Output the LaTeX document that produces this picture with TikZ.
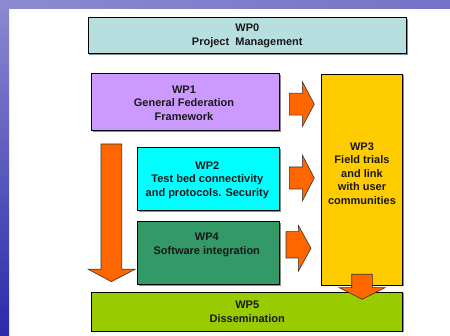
\documentclass[tikz,border=0pt]{standalone}
\usepackage{fontspec}
\setmainfont{Liberation Sans}
\usetikzlibrary{calc,shadows}
\definecolor{cwpzero}{HTML}{B8DFE0}
\definecolor{cwpone}{HTML}{CC99FF}
\definecolor{cwptwo}{HTML}{00FFFF}
\definecolor{cwpthree}{HTML}{FFCC00}
\definecolor{cwpfour}{HTML}{339966}
\definecolor{cwpfive}{HTML}{99CC00}
\definecolor{corange}{HTML}{FF6600}
\definecolor{bgtop}{HTML}{8C8AD0}
\definecolor{bgtopr}{HTML}{7672C6}
\definecolor{bgbot}{HTML}{2A2AAA}
\tikzset{
  wpbox/.style={draw=black, line width=0.9pt, inner sep=0pt,
    drop shadow={shadow xshift=1.4pt, shadow yshift=-1.4pt, fill=black!45, opacity=1}},
  wptext/.style={align=center, font=\fontsize{11}{13.5}\selectfont\bfseries, text=black!90, inner sep=0pt},
  blockarrow/.style={draw=black!80, line width=0.6pt, fill=corange, line join=miter}
}
\begin{document}
\begin{tikzpicture}[x=1pt,y=-1pt]
\useasboundingbox (0,0) rectangle (450,336);
% slide background
\fill[white] (0,0) rectangle (450,336);
\shade[top color=bgtop, bottom color=bgbot] (0,0) rectangle (9,336);
\shade[left color=bgtop, right color=bgtopr] (0,0) rectangle (450,8.5);
% boxes
\node[wpbox, fill=cwpzero, minimum width=318.7pt, minimum height=35.6pt] (wp0) at (247.3,35.5) {};
\node[wptext] at ($(wp0.center)+(0,0.5)$) {WP0\\Project\ \ Management};
\node[wpbox, fill=cwpone, minimum width=187.6pt, minimum height=56.7pt] (wp1) at (185.5,102.3) {};
\node[wptext] at ($(wp1.center)+(-1.5,0.7)$) {WP1\\General Federation\\Framework};
\node[wpbox, fill=cwptwo, minimum width=142pt, minimum height=63.3pt] (wp2) at (208.3,179.3) {};
\node[wptext] at ($(wp2.center)+(-1,1)$) {WP2\\Test bed connectivity\\and protocols. Security};
\node[wpbox, fill=cwpfour, minimum width=142pt, minimum height=63.3pt] (wp4) at (208.3,253.3) {};
\node[wptext] at ($(wp4.center)+(-1.5,-8.3)$) {WP4\\Software integration};
\node[wpbox, fill=cwpthree, minimum width=81.4pt, minimum height=211pt] (wp3) at (362,179.5) {};
\node[wptext] at ($(wp3.center)+(0,-6)$) {WP3\\Field trials\\and link\\with user\\communities};
\node[wpbox, fill=cwpfive, minimum width=311pt, minimum height=39pt] (wp5) at (247.2,311.5) {};
\node[wptext] at ($(wp5.center)+(0,0.3)$) {WP5\\Dissemination};
% block arrows
\draw[blockarrow] (289.3,93.2) -- (302.3,93.2) -- (302.3,81.7) -- (314.3,104.2) -- (302.3,126.7) -- (302.3,115.2) -- (289.3,115.2) -- cycle;
\draw[blockarrow] (289.3,167) -- (302.3,167) -- (302.3,155) -- (314.3,178) -- (302.3,201) -- (302.3,189) -- (289.3,189) -- cycle;
\draw[blockarrow] (286,231.7) -- (298.3,231.7) -- (298.3,225.3) -- (311,248.3) -- (298.3,271.3) -- (298.3,258) -- (286,258) -- cycle;
\draw[blockarrow] (101,144) -- (121.7,144) -- (121.7,269.3) -- (135,269.3) -- (111.4,281.7) -- (88.3,269.3) -- (101,269.3) -- cycle;
\draw[blockarrow] (351.7,274.3) -- (372.3,274.3) -- (372.3,287.7) -- (385,287.7) -- (362.2,299.3) -- (339.3,287.7) -- (351.7,287.7) -- cycle;
\end{tikzpicture}
\end{document}
